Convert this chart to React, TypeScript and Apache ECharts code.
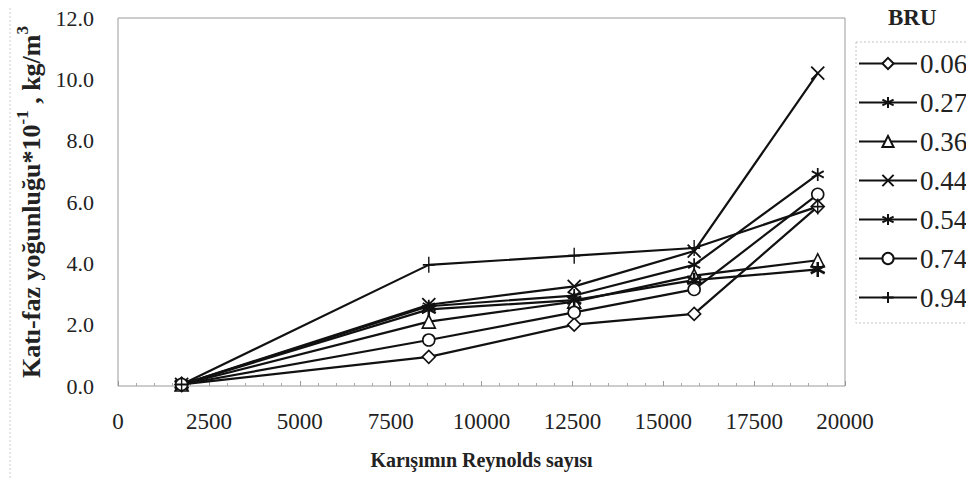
import React, { useEffect, useRef } from "react";
import * as echarts from "echarts";

const reynolds = [1750, 8550, 12550, 15850, 19250];
const bruNames = ["0.06", "0.27", "0.36", "0.44", "0.54", "0.74", "0.94"];
const bru006 = [0.05, 0.95, 2.0, 2.35, 5.85];
const bru027 = [0.05, 2.6, 2.95, 3.95, 6.9];
const bru036 = [0.05, 2.1, 2.75, 3.6, 4.1];
const bru044 = [0.05, 2.65, 3.25, 4.4, 10.2];
const bru054 = [0.05, 2.5, 2.8, 3.45, 3.8];
const bru074 = [0.05, 1.5, 2.4, 3.15, 6.25];
const bru094 = [0.05, 3.95, 4.25, 4.5, 5.85];
const seriesValues = [bru006, bru027, bru036, bru044, bru054, bru074, bru094];

const xTitle = "Karışımın Reynolds sayısı";
const legendTitle = "BRU";

const FONT = "Liberation Serif";
const INK = "#111";

const ASTERISK = "path://M0,-10L0,10M-8.66,-5L8.66,5M-8.66,5L8.66,-5";
const CROSS = "path://M-10,-10L10,10M-10,10L10,-10";
const PLUS = "path://M0,-10L0,10M-10,0L10,0";

const markers: any[] = [
  { symbol: "diamond", size: 13, bw: 1.6 },
  { symbol: ASTERISK, size: [12, 13], bw: 1.8 },
  { symbol: "triangle", size: 13, bw: 1.6 },
  { symbol: CROSS, size: 13, bw: 1.8 },
  { symbol: ASTERISK, size: [14, 15], bw: 2.6 },
  { symbol: "circle", size: 12, bw: 1.6 },
  { symbol: PLUS, size: [12, 16], bw: 1.6 },
];

export default function App() {
  const ref = useRef<HTMLDivElement>(null);
  useEffect(() => {
    if (!ref.current) return;
    const chart = echarts.init(ref.current, null, { renderer: "svg" });
    const series = bruNames.map((name, i) => ({
      name,
      type: "line",
      data: reynolds.map((x, j) => [x, seriesValues[i][j]]),
      symbol: markers[i].symbol,
      symbolSize: markers[i].size,
      showAllSymbol: true,
      lineStyle: { color: INK, width: 2.2 },
      itemStyle: { color: "#fff", borderColor: INK, borderWidth: markers[i].bw },
      emphasis: { disabled: true },
      z: 3,
    }));
    chart.setOption({
      animation: false,
      backgroundColor: "#fff",
      grid: {
        left: 118,
        right: 129,
        top: 18,
        bottom: 100,
        show: true,
        borderColor: "#9a9a9a",
        borderWidth: 1,
        backgroundColor: "transparent",
      },
      xAxis: {
        type: "value",
        min: 0,
        max: 20000,
        interval: 2500,
        axisLine: { show: false },
        axisTick: { show: true, inside: true, length: 5, lineStyle: { color: "#999" } },
        minorTick: { show: true, splitNumber: 5, length: 3, lineStyle: { color: "#aaa" } },
        splitLine: { show: false },
        axisLabel: {
          fontFamily: FONT,
          fontSize: 23,
          color: "#222",
          margin: 24,
          showMinLabel: true,
          showMaxLabel: true,
          formatter: (v: number) => String(v),
        },
        name: xTitle,
        nameLocation: "middle",
        nameGap: 64,
        nameTextStyle: { fontFamily: FONT, fontSize: 20, fontWeight: "bold", color: "#222" },
      },
      yAxis: {
        type: "value",
        min: 0,
        max: 12,
        interval: 2,
        axisLine: { show: false },
        axisTick: { show: false },
        splitLine: { show: false },
        axisLabel: {
          fontFamily: FONT,
          fontSize: 22,
          color: "#222",
          margin: 24,
          formatter: (v: number) => v.toFixed(1),
        },
        name: "{a|Katı-faz yoğunluğu*10}{s|-1}{a| , kg/m}{s|3}",
        nameLocation: "middle",
        nameRotate: 90,
        nameGap: 70,
        nameTextStyle: {
          fontFamily: FONT,
          color: "#222",
          rich: {
            a: { fontFamily: FONT, fontSize: 26, fontWeight: "bold", color: "#222", verticalAlign: "bottom", lineHeight: 31 },
            s: { fontFamily: FONT, fontSize: 17, fontWeight: "bold", color: "#222", verticalAlign: "top", lineHeight: 31 },
          },
        },
      },
      legend: {
        orient: "vertical",
        left: 858,
        top: 50,
        itemWidth: 58,
        itemHeight: 14,
        itemGap: 12,
        padding: 0,
        data: bruNames,
        textStyle: { fontFamily: FONT, fontSize: 27, color: "#222", padding: [0, 0, 0, -2] },
      },
      graphic: [
        {
          type: "text",
          left: 888,
          top: 6,
          style: { text: legendTitle, fontFamily: FONT, fontSize: 23, fontWeight: "bold", fill: "#222" },
        },
        {
          type: "rect",
          shape: { x: 856, y: 42, width: 140, height: 281 },
          style: { fill: "none", stroke: "#c4c4c4", lineWidth: 1, lineDash: [2, 2] },
          z: 0,
        },
        {
          type: "line",
          shape: { x1: 10, y1: 0, x2: 10, y2: 486 },
          style: { stroke: "#d0d0d0", lineWidth: 1, lineDash: [2, 2] },
          z: 0,
        },
      ],
      series,
    });
    return () => chart.dispose();
  }, []);
  return <div ref={ref} style={{ width: 974, height: 486, margin: -8 }} />;
}
